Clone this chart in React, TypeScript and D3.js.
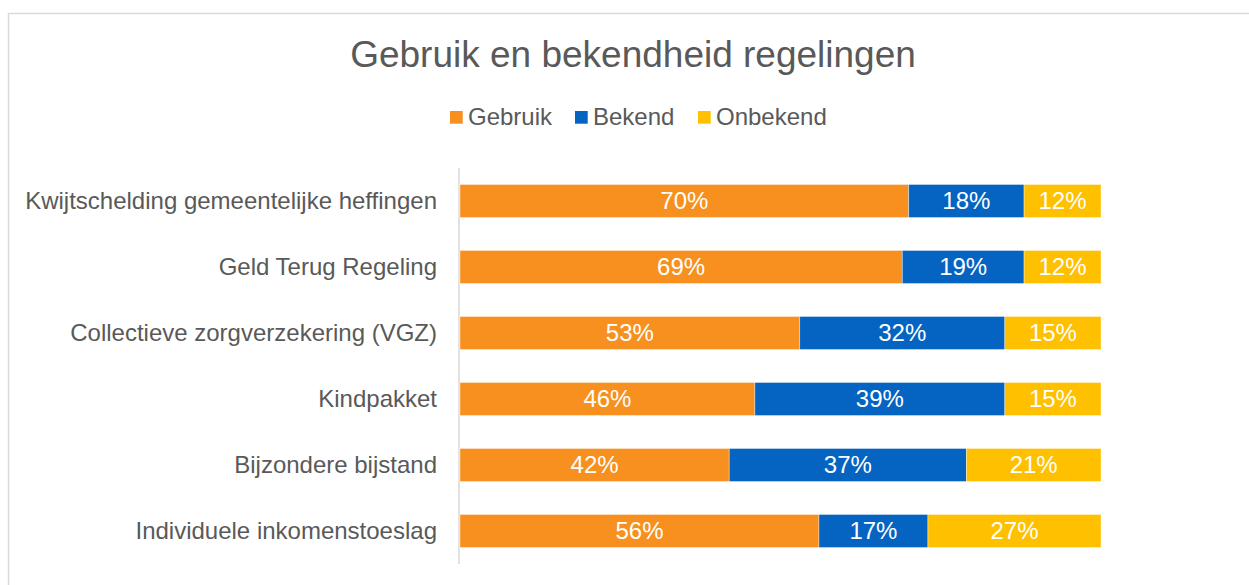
import React from 'react'
import * as d3 from 'd3'

const categories = [
  'Kwijtschelding gemeentelijke heffingen',
  'Geld Terug Regeling',
  'Collectieve zorgverzekering (VGZ)',
  'Kindpakket',
  'Bijzondere bijstand',
  'Individuele inkomenstoeslag',
]
const seriesNames = ['Gebruik', 'Bekend', 'Onbekend']
const gebruik = [70, 69, 53, 46, 42, 56]
const bekend = [18, 19, 32, 39, 37, 17]
const onbekend = [12, 12, 15, 15, 21, 27]
const colors = ['#F7901E', '#0563C1', '#FFC000']

const W = 1249
const H = 585
const font = '"Liberation Sans", Arial, sans-serif'

const App = () => {
  const rows = categories.map((c, i) => ({ cat: c, Gebruik: gebruik[i], Bekend: bekend[i], Onbekend: onbekend[i] }))
  const stacked = d3.stack<any>().keys(seriesNames)(rows)

  const x = d3.scaleLinear().domain([0, 100]).range([460, 1101])
  const y = d3.scaleBand().domain(categories).range([168, 564]).paddingInner(0.5).paddingOuter(0.25)
  const z = d3.scaleOrdinal<string>().domain(seriesNames).range(colors)

  // legend slots (square x, text x)
  const legendX = [450, 575, 698]

  return (
    <svg width={W} height={H} style={{ position: 'absolute', left: 0, top: 0, background: '#fff' }} fontFamily={font}>
      <rect x={8.5} y={13.5} width={1250} height={600} fill="#fff" stroke="#d9d9d9" strokeWidth={1.5} />
      <text x={633} y={67} textAnchor="middle" fontSize={37} fill="#595959">
        Gebruik en bekendheid regelingen
      </text>
      {seriesNames.map((s, i) => (
        <g key={s}>
          <rect x={legendX[i]} y={111} width={12.7} height={12.7} fill={z(s)} />
          <text x={legendX[i] + 18} y={125} fontSize={24} fill="#595959">{s}</text>
        </g>
      ))}
      <line x1={459} x2={459} y1={168} y2={564} stroke="#d9d9d9" strokeWidth={1.5} />
      {categories.map((c) => (
        <text key={c} x={437} y={(y(c) as number) + y.bandwidth() / 2} dy="0.35em" textAnchor="end" fontSize={24} fill="#595959">
          {c}
        </text>
      ))}
      {stacked.map((layer) => (
        <g key={layer.key} fill={z(layer.key)}>
          {layer.map((d) => {
            const cat = d.data.cat
            const x0 = x(d[0])
            const x1 = x(d[1])
            const cy = (y(cat) as number) + y.bandwidth() / 2
            return (
              <g key={cat}>
                <rect x={x0} y={y(cat)} width={x1 - x0} height={y.bandwidth()} stroke="#fff" strokeOpacity={0.5} strokeWidth={0.75} />
                <text x={(x0 + x1) / 2} y={cy} dy="0.35em" textAnchor="middle" fontSize={24} fill="#fff">
                  {`${d[1] - d[0]}%`}
                </text>
              </g>
            )
          })}
        </g>
      ))}
    </svg>
  )
}

export default App
